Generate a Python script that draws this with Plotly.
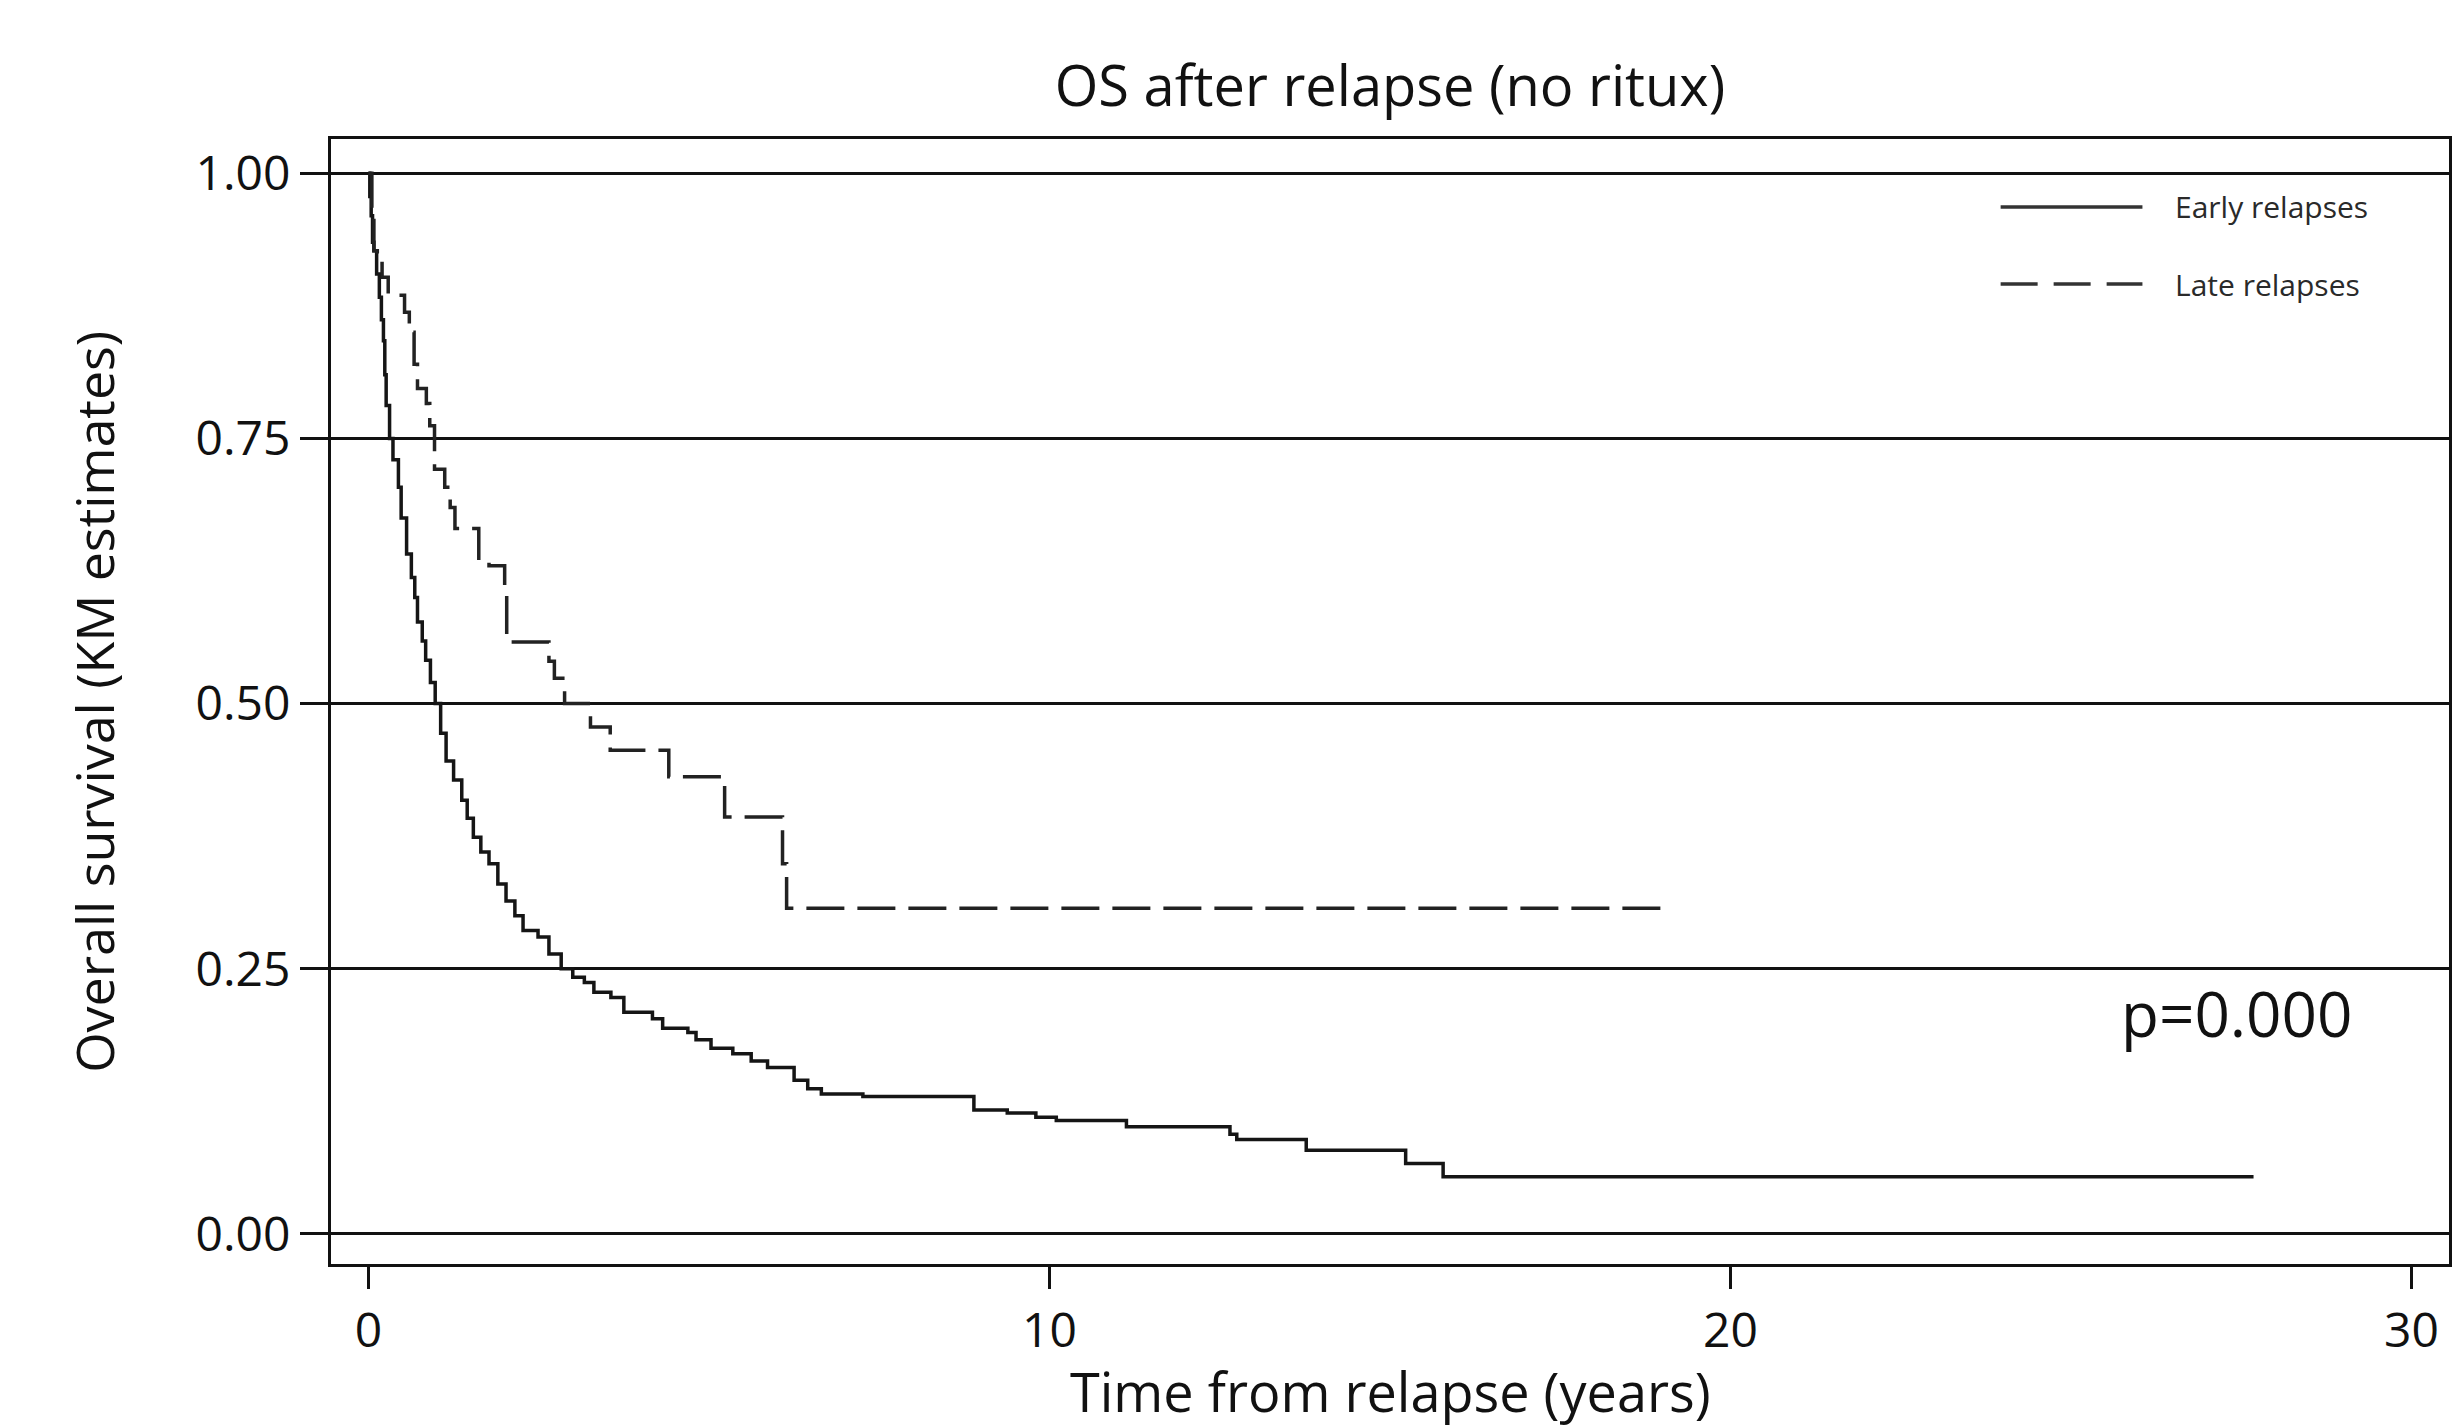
import plotly.graph_objects as go

# ---- data ----
early_t = [0, 0.02, 0.04, 0.06, 0.08, 0.12, 0.16, 0.19, 0.22, 0.24, 0.26, 0.31, 0.36, 0.44, 0.48,
           0.56, 0.63, 0.68, 0.72, 0.79, 0.84, 0.91, 0.98, 1.06, 1.14, 1.25, 1.37, 1.45, 1.54,
           1.65, 1.77, 1.90, 2.02, 2.15, 2.27, 2.49, 2.65, 2.83, 3.00, 3.17, 3.31, 3.56, 3.75,
           4.17, 4.32, 4.69, 4.81, 5.03, 5.35, 5.62, 5.86, 6.25, 6.45, 6.65, 7.26, 8.89, 9.38,
           9.80, 10.10, 11.13, 12.65, 12.75, 13.77, 15.23, 15.78, 27.68]
early_s = [1.0, 0.978, 0.96, 0.935, 0.927, 0.905, 0.883, 0.862, 0.842, 0.81, 0.781, 0.75, 0.73,
           0.704, 0.675, 0.641, 0.619, 0.60, 0.577, 0.559, 0.541, 0.52, 0.50, 0.472, 0.446, 0.428,
           0.409, 0.392, 0.374, 0.36, 0.349, 0.33, 0.314, 0.30, 0.286, 0.28, 0.264, 0.25, 0.242,
           0.237, 0.228, 0.223, 0.209, 0.203, 0.194, 0.19, 0.183, 0.175, 0.17, 0.163, 0.157, 0.145,
           0.137, 0.132, 0.1297, 0.117, 0.114, 0.110, 0.107, 0.101, 0.094, 0.089, 0.079, 0.0665,
           0.054, 0.054]

late_t = [0, 0.05, 0.08, 0.13, 0.20, 0.29, 0.53, 0.60, 0.67, 0.72, 0.85, 0.90, 0.97, 1.12, 1.20,
          1.27, 1.62, 1.77, 2.00, 2.03, 2.65, 2.73, 2.88, 3.26, 3.55, 4.41, 5.23, 6.08, 6.14, 19.07]
late_s = [1.0, 0.96, 0.927, 0.915, 0.902, 0.885, 0.869, 0.85, 0.82, 0.797, 0.783, 0.762, 0.721,
          0.704, 0.685, 0.665, 0.635, 0.63, 0.61, 0.558, 0.54, 0.524, 0.50, 0.478, 0.456, 0.431,
          0.393, 0.349, 0.307, 0.307]

series_names = ["Early relapses", "Late relapses"]
x_ticks = [0, 10, 20, 30]
y_ticks = [0.0, 0.25, 0.5, 0.75, 1.0]
y_tick_text = ["0.00", "0.25", "0.50", "0.75", "1.00"]
title_text = "OS after relapse (no ritux)"
x_title = "Time from relapse (years)"
y_title = "Overall survival (KM estimates)"
p_text = "p=0.000"

FONT = "Open Sans, Liberation Sans, Arial, sans-serif"
INK = "#111111"
DASH = "38px,13px"

fig = go.Figure()
fig.add_trace(go.Scatter(x=early_t, y=early_s, mode="lines", line_shape="hv",
                         line=dict(color="#151515", width=3.5), name=series_names[0],
                         showlegend=False))
fig.add_trace(go.Scatter(x=late_t, y=late_s, mode="lines", line_shape="hv",
                         line=dict(color="#222222", width=3.5, dash=DASH), name=series_names[1],
                         showlegend=False))

W, H = 2461, 1428
L, R, T, B = 331, 9, 139, 164
pw, ph = W - L - R, H - T - B

def px_x(x):
    return (x - L) / pw

def px_y(y):
    return (H - B - y) / ph

# manual legend (no frame), top-right inside plot
fig.add_shape(type="line", xref="paper", yref="paper", x0=px_x(2003), x1=px_x(2145),
              y0=px_y(207), y1=px_y(207), line=dict(color="#333333", width=3.5))
fig.add_shape(type="line", xref="paper", yref="paper", x0=px_x(2003), x1=px_x(2145),
              y0=px_y(284), y1=px_y(284), line=dict(color="#333333", width=3.5, dash="37px,16px"))
for name, yy in zip(series_names, [207, 284]):
    fig.add_annotation(text=name, xref="paper", yref="paper", x=px_x(2176), y=px_y(yy),
                       xanchor="left", yanchor="middle", showarrow=False,
                       font=dict(family=FONT, size=30, color="#2a2a2a"))

# p-value
fig.add_annotation(text=p_text, x=27.43, y=0.208, xref="x", yref="y", showarrow=False,
                   xanchor="center", yanchor="middle",
                   font=dict(family=FONT, size=62, color=INK))

# axis titles
fig.add_annotation(text=x_title, xref="paper", yref="paper", x=0.5, y=px_y(1391),
                   xanchor="center", yanchor="middle", showarrow=False,
                   font=dict(family=FONT, size=54, color=INK))
fig.add_annotation(text=y_title, xref="paper", yref="paper", x=px_x(93), y=0.5,
                   xanchor="center", yanchor="middle", showarrow=False, textangle=-90,
                   font=dict(family=FONT, size=52, color=INK))

fig.update_layout(
    width=W, height=H,
    margin=dict(l=L, r=R, t=T, b=B, pad=0),
    paper_bgcolor="white", plot_bgcolor="white",
    showlegend=False,
    title=dict(text=title_text, x=0.5, xref="paper", xanchor="center",
               y=1 - 86 / H, yref="container", yanchor="middle",
               font=dict(family=FONT, size=56, color=INK)),
    xaxis=dict(range=[-0.55, 30.55], tickvals=x_ticks, ticktext=[str(v) for v in x_ticks],
               showgrid=False, zeroline=False, showline=True, mirror=True,
               linecolor="#111111", linewidth=3, ticks="outside", ticklen=22, tickwidth=2.5,
               tickcolor="#111111", tickfont=dict(family=FONT, size=48, color=INK)),
    yaxis=dict(range=[-0.0283, 1.0323], tickvals=y_ticks, ticktext=y_tick_text,
               showgrid=True, gridcolor="#111111", gridwidth=3, zeroline=False,
               showline=True, mirror=True, linecolor="#111111", linewidth=3,
               ticks="outside", ticklen=28, tickwidth=3, tickcolor="#111111",
               tickfont=dict(family=FONT, size=48, color=INK)),
)

fig.write_html("out.html")
